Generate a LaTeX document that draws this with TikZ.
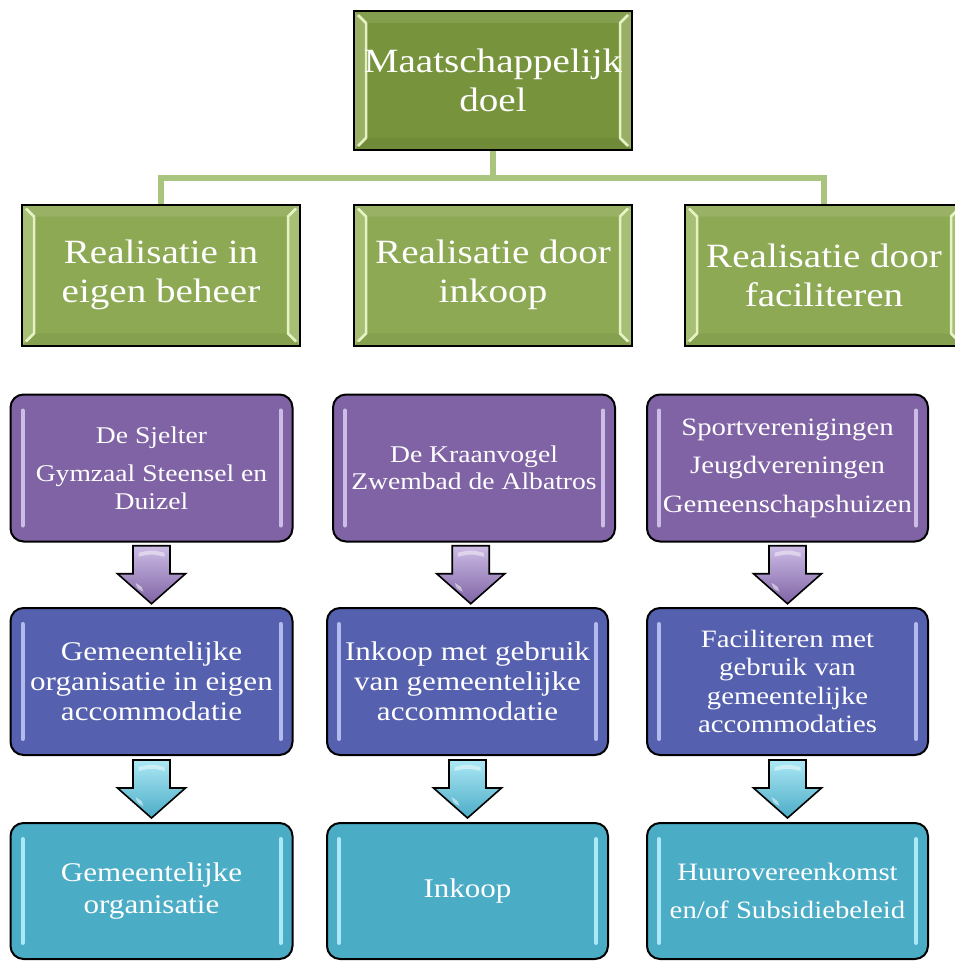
\documentclass[tikz,border=0pt]{standalone}
\usepackage{fontspec}
\setmainfont{Liberation Serif}[FakeStretch=1.15]
\usetikzlibrary{calc}
\definecolor{gtop}{HTML}{77933C}
\definecolor{grow}{HTML}{8DA954}
\definecolor{glight}{HTML}{E6F2C4}
\definecolor{gconn}{HTML}{A9C47F}
\definecolor{purp}{HTML}{7F63A4}
\definecolor{purpl}{HTML}{CDBDE6}
\definecolor{blu}{HTML}{5560AF}
\definecolor{blul}{HTML}{B3BBEE}
\definecolor{teal}{HTML}{4BACC6}
\definecolor{teall}{HTML}{ACE8F5}
\newcommand\gbevel{%
  \coordinate (bnw) at (path picture bounding box.north west);
  \coordinate (bne) at (path picture bounding box.north east);
  \coordinate (bsw) at (path picture bounding box.south west);
  \coordinate (bse) at (path picture bounding box.south east);
  \fill[glight, opacity=.30] ($(bnw)+(1,1)$) -- ($(bnw)+(12,12)$) --
    ($(bsw)+(12,-12)$) -- ($(bsw)+(1,-1)$) -- cycle;
  \fill[glight, opacity=.30] ($(bne)+(-1,1)$) -- ($(bne)+(-12,12)$) --
    ($(bse)+(-12,-12)$) -- ($(bse)+(-1,-1)$) -- cycle;
  \fill[white, opacity=.10] ($(bnw)+(1,1)$) -- ($(bne)+(-1,1)$) --
    ($(bne)+(-12,12)$) -- ($(bnw)+(12,12)$) -- cycle;
  \fill[black, opacity=.05] ($(bsw)+(1,-1)$) -- ($(bse)+(-1,-1)$) --
    ($(bse)+(-12,-12)$) -- ($(bsw)+(12,-12)$) -- cycle;
  \draw[glight, line width=2.5pt, line join=round]
    ($(bnw)+(4,4)$) -- ($(bnw)+(12,12)$) -- ($(bsw)+(12,-12)$) -- ($(bsw)+(4,-4)$);
  \draw[glight, line width=2.5pt, line join=round]
    ($(bne)+(-4,4)$) -- ($(bne)+(-12,12)$) -- ($(bse)+(-12,-12)$) -- ($(bse)+(-4,-4)$);}
\newcommand\rbars[1]{%
  \draw[line width=4pt, line cap=round, #1]
    ($(path picture bounding box.north west)+(12,16)$) -- ($(path picture bounding box.south west)+(12,-16)$);
  \draw[line width=4pt, line cap=round, #1]
    ($(path picture bounding box.north east)+(-12,16)$) -- ($(path picture bounding box.south east)+(-12,-16)$);}
\begin{document}
\begin{tikzpicture}[x=1pt,y=-1pt,
  box/.style={draw=black, line width=2pt, text=white, align=center, inner sep=0pt},
  gbox/.style={box, fill=#1, minimum width=278pt, minimum height=141pt,
    font=\fontsize{34}{39}\selectfont, path picture={\gbevel}},
  rbox/.style n args={2}{box, fill=#1, rounded corners=13pt, minimum width=282pt,
    minimum height=147pt, path picture={\rbars{#2}}},
  conn/.style={draw=gconn, line width=6.5pt},
  blockarrow/.pic={
    \path[pic actions] (-18.5,-29) -- (18.5,-29) -- (18.5,-1) -- (34,-1) -- (0,29)
      -- (-34,-1) -- (-18.5,-1) -- cycle;
    \fill[white, opacity=.45] (-13,-22) .. controls (0,-25) .. (13,-22)
      -- (13,-18) .. controls (0,-21) .. (-13,-18) -- cycle;
    \fill[white, opacity=.5] (-16,8) .. controls (-14,14) .. (-8,17)
      -- (-10,12) .. controls (-13,10) .. (-16,8) -- cycle;},
  parrow/.style={draw=black, line width=1.6pt, top color=purpl, bottom color=purp},
  tarrow/.style={draw=black, line width=1.6pt, top color=teall, bottom color=teal}
]
\useasboundingbox (0,0) rectangle (955,966);
\clip (0,0) rectangle (955,966);
\coordinate (bus) at (0,178);
% top level
\node[gbox=gtop, minimum height=139pt] (top) at (493,80.5) {Maatschappelijk\\doel};
\node[gbox=grow] (g1) at (161,275) {Realisatie in\\eigen beheer};
\node[gbox=grow] (g2) at (493,275) {Realisatie door\\inkoop};
\node[gbox=grow] (g3) at (824,275) {Realisatie door\\faciliteren};
\draw[conn] (top.south) -- (top.south |- bus);
\draw[conn] (g1.north) -- (g1.north |- bus) -- (g3.north |- bus) -- (g3.north);
% purple row
\node[rbox={purp}{purpl}, font=\fontsize{24}{28}\selectfont] (p1) at (151.5,468)
  {De Sjelter\\[10pt]Gymzaal Steensel en\\Duizel};
\node[rbox={purp}{purpl}, font=\fontsize{24}{26.5}\selectfont] (p2) at (474,468)
  {De Kraanvogel\\Zwembad de Albatros};
\node[rbox={purp}{purpl}, minimum width=281pt, font=\fontsize{25}{38.5}\selectfont] (p3) at (787.5,468)
  {Sportverenigingen\\Jeugdvereningen\\Gemeenschapshuizen};
% blue row
\node[rbox={blu}{blul}, font=\fontsize{27}{30}\selectfont] (b1) at (151.5,681.5)
  {Gemeentelijke\\organisatie in eigen\\accommodatie};
\node[rbox={blu}{blul}, minimum width=281pt, font=\fontsize{27}{30}\selectfont] (b2) at (467.5,681.5)
  {Inkoop met gebruik\\van gemeentelijke\\accommodatie};
\node[rbox={blu}{blul}, minimum width=281pt, font=\fontsize{25}{28.5}\selectfont] (b3) at (787.5,681.5)
  {Faciliteren met\\gebruik van\\gemeentelijke\\accommodaties};
% teal row
\node[rbox={teal}{teall}, minimum height=136pt, font=\fontsize{27}{32}\selectfont] (t1) at (151.5,891)
  {Gemeentelijke\\organisatie};
\node[rbox={teal}{teall}, minimum width=281pt, minimum height=136pt, font=\fontsize{27}{32}\selectfont] (t2) at (467.5,891)
  {Inkoop};
\node[rbox={teal}{teall}, minimum width=281pt, minimum height=136pt, font=\fontsize{25}{38}\selectfont] (t3) at (787.5,891)
  {Huurovereenkomst\\en/of Subsidiebeleid};
% block arrows
\pic[parrow] (pa1) at ($(p1.south)!0.5!(b1.north)$) {blockarrow};
\pic[parrow] (pa2) at ($(p2.south)!0.5!(b2.north)$) {blockarrow};
\pic[parrow] (pa3) at ($(p3.south)!0.5!(b3.north)$) {blockarrow};
\pic[tarrow] (ta1) at ($(b1.south)!0.5!(t1.north)$) {blockarrow};
\pic[tarrow] (ta2) at ($(b2.south)!0.5!(t2.north)$) {blockarrow};
\pic[tarrow] (ta3) at ($(b3.south)!0.5!(t3.north)$) {blockarrow};
\end{tikzpicture}
\end{document}
